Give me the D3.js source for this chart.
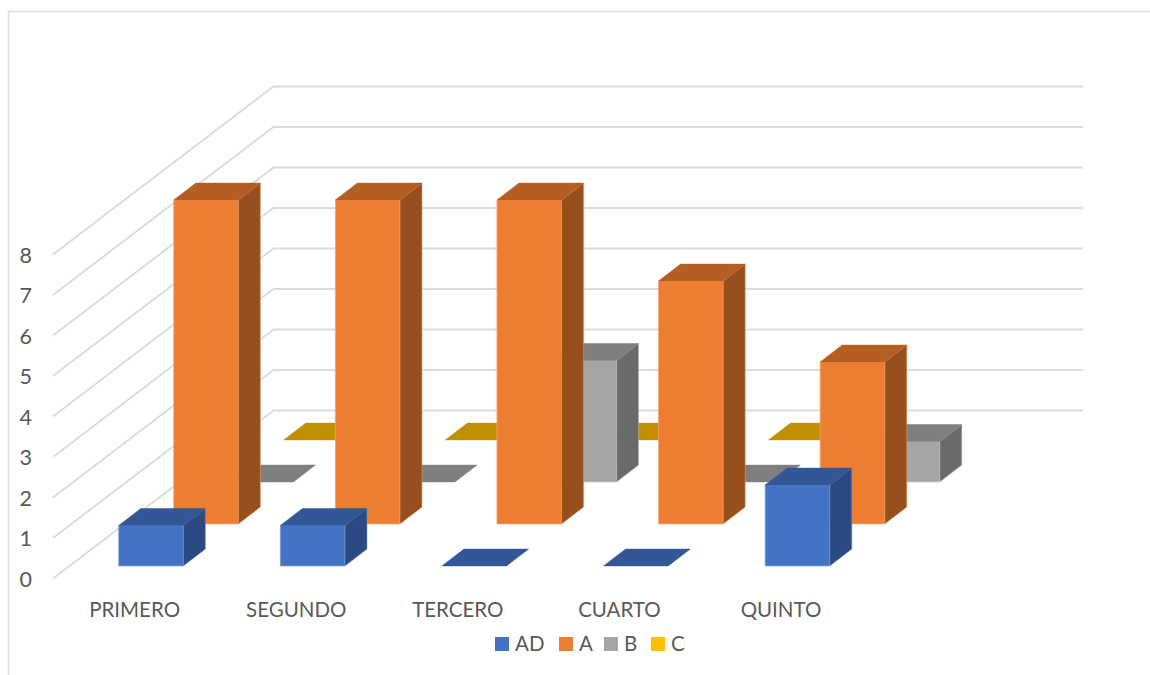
<!DOCTYPE html>
<html>
<head>
<meta charset="utf-8">
<script src="https://cdn.jsdelivr.net/npm/d3@7/dist/d3.min.js"></script>
<style>
html,body{margin:0;padding:0;background:#fff;overflow:hidden}
svg{display:block}
text{font-family:Lato,"Open Sans",sans-serif;fill:#595959}
</style>
</head>
<body>
<svg id="chart" width="1150" height="675"></svg>
<script>
const categories = ["PRIMERO", "SEGUNDO", "TERCERO", "CUARTO", "QUINTO"];
const seriesNames = ["AD", "A", "B", "C"];
const valuesAD = [1, 1, 0, 0, 2];
const valuesA = [8, 8, 8, 6, 4];
const valuesB = [0, 0, 3, 0, 1];
const valuesC = [0, 0, 0, 0, null];
const yTicks = [0, 1, 2, 3, 4, 5, 6, 7, 8];
const seriesValues = [valuesAD, valuesA, valuesB, valuesC];
const palette = {
  AD: {front: "#4472C4", top: "#325796", side: "#2B4982", edge: "#7C9ADB"},
  A:  {front: "#ED7D31", top: "#B55E23", side: "#984F1E", edge: "#F4A570"},
  B:  {front: "#A5A5A5", top: "#7F7F7F", side: "#6A6A6A", edge: "#C4C4C4"},
  C:  {front: "#FFC000", top: "#C09000", side: "#A37A00", edge: "#C09000"}
};

const svg = d3.select("#chart");
const depthX = 220, depthY = 168;
const x = d3.scaleBand().domain(categories).range([53.8, 861.8]).paddingInner(0.6).paddingOuter(0.3);
const y = d3.scaleLinear().domain([0, 8]).range([578.5, 254.5]);
const z = d3.scaleBand().domain(seriesNames).range([0, 1]).paddingInner(0.6).paddingOuter(0.3);

// chart area border
svg.append("path").attr("d", "M8.5,675V11.5H1150").attr("fill", "none").attr("stroke", "#dcdcdc").attr("stroke-width", 1.6);

// gridlines: side wall and back wall
svg.append("g").selectAll("path").data(yTicks).join("path")
  .attr("d", v => `M53,${y(v)}L${53.5 + depthX},${y(v) - depthY}H1083`)
  .attr("fill", "none").attr("stroke", "#dcdcdc").attr("stroke-width", 2);

// value axis
const yAxis = svg.append("g").attr("transform", "translate(41,1)")
  .call(d3.axisLeft(y).tickValues(yTicks).tickSize(0).tickPadding(9).tickFormat(d3.format("d")));
yAxis.select(".domain").remove();
yAxis.selectAll("text").attr("font-size", 21.5).attr("fill", "#595959").style("font-family", "Lato");

// category axis
const xAxis = svg.append("g").attr("transform", "translate(0,602)")
  .call(d3.axisBottom(x).tickSize(0).tickPadding(0));
xAxis.select(".domain").remove();
xAxis.selectAll("text").attr("font-size", 20.5).attr("fill", "#595959").style("font-family", "Lato");

// bars: painted from the back series to the front one
const px = (xv, d) => xv + d * depthX;
const py = (v, d) => y(v) - d * depthY;
const poly = pts => "M" + pts.map(p => p.join(",")).join("L") + "Z";

seriesNames.map((name, i) => ({name, values: seriesValues[i]})).reverse().forEach(s => {
  const c = palette[s.name];
  const d0 = z(s.name), d1 = d0 + z.bandwidth();
  const g = svg.append("g");
  categories.forEach((cat, k) => {
    const v = s.values[k];
    if (v === null) return;
    const x0 = x(cat), x1 = x0 + x.bandwidth();
    const bar = g.append("g");
    if (v > 0) {
      bar.append("path").attr("d", poly([[px(x0,d0),py(0,d0)],[px(x1,d0),py(0,d0)],[px(x1,d0),py(v,d0)],[px(x0,d0),py(v,d0)]]))
        .attr("fill", c.front).attr("stroke", c.edge).attr("stroke-width", 0.8);
      bar.append("path").attr("d", poly([[px(x1,d0),py(0,d0)],[px(x1,d1),py(0,d1)],[px(x1,d1),py(v,d1)],[px(x1,d0),py(v,d0)]]))
        .attr("fill", c.side).attr("stroke", c.edge).attr("stroke-width", 0.5);
    }
    bar.append("path").attr("d", poly([[px(x0,d0),py(v,d0)],[px(x1,d0),py(v,d0)],[px(x1,d1),py(v,d1)],[px(x0,d1),py(v,d1)]]))
      .attr("fill", c.top).attr("stroke", c.top).attr("stroke-width", 0.5);
  });
});

// legend
const legendX = d3.scaleOrdinal().domain(seriesNames).range([495, 559, 604, 651]);
const legend = svg.append("g").selectAll("g").data(seriesNames).join("g")
  .attr("transform", d => `translate(${legendX(d)},637)`);
legend.append("rect").attr("width", 14).attr("height", 14).attr("fill", d => palette[d].front);
legend.append("text").attr("x", 20).attr("y", 14).attr("font-size", 20.5).text(d => d);
</script>
</body>
</html>
